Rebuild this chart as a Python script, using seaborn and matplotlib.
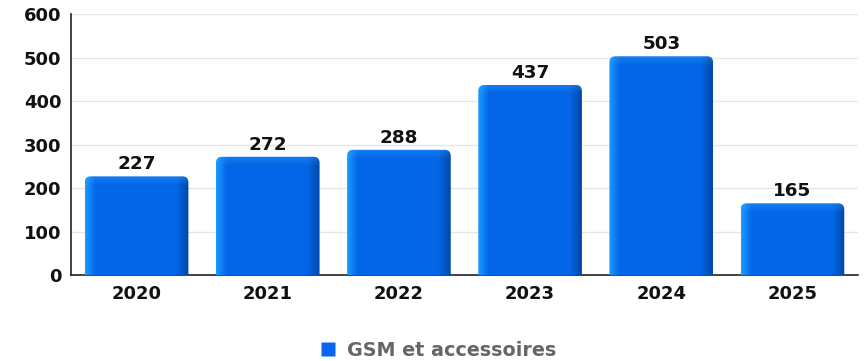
import numpy as np
import pandas as pd
import matplotlib
matplotlib.use("Agg")
import matplotlib.pyplot as plt
import seaborn as sns
from matplotlib.patches import FancyBboxPatch
from matplotlib.lines import Line2D
from matplotlib.colors import to_rgb

# data
years = ["2020", "2021", "2022", "2023", "2024", "2025"]
values = [227, 272, 288, 437, 503, 165]
series_name = "GSM et accessoires"

df = pd.DataFrame({"year": years, "value": values})

sns.set_style("white")
plt.rcParams["font.family"] = ["DejaVu Sans"]

fig = plt.figure(figsize=(8.68, 3.61), dpi=100)
ax = fig.add_axes([0.0818, 0.238, 0.9067, 0.723])

main = "#0366e8"
sns.barplot(data=df, x="year", y="value", color=main, width=0.79,
            saturation=1, ax=ax)

ax.set_xlim(-0.5, 5.5)
ax.set_ylim(0, 600)
ax.set_yticks(range(0, 601, 100))
ax.grid(axis="y", color="#e6e6e6", linewidth=1)
ax.set_axisbelow(True)

# gradient bars with rounded top corners
light = np.array(to_rgb("#1a9bff"))
mid = np.array(to_rgb(main))
dark = np.array(to_rgb("#0048a8"))
xs = np.linspace(0, 1, 120)
row = np.empty((120, 3))
for i, t in enumerate(xs):
    if t < 0.1:
        row[i] = light + (mid - light) * (t / 0.1)
    elif t > 0.88:
        row[i] = mid + (dark - mid) * ((t - 0.88) / 0.12)
    else:
        row[i] = mid

px_per_x = 0.9067 * 868 / 6
px_per_y = 0.723 * 361 / 600
aspect = px_per_x / px_per_y

for p in ax.patches:
    x0, w, h = p.get_x(), p.get_width(), p.get_height()
    p.set_visible(False)
    rows = int(h)
    img = np.tile(row, (rows, 1, 1))
    top = int(10 / px_per_y)
    for r in range(top):
        k = 0.35 * (1 - r / top)
        img[r] = np.clip(img[r] * (1 - k) + np.array(to_rgb("#3aa8ff")) * k, 0, 1)
    clip = FancyBboxPatch((x0, -20), w, h + 20,
                          boxstyle="round,pad=0,rounding_size=%f" % (6 / px_per_x),
                          mutation_aspect=aspect, transform=ax.transData,
                          facecolor="none", edgecolor="none")
    im = ax.imshow(img, extent=(x0, x0 + w, 0, h), aspect="auto",
                   origin="upper", zorder=3, interpolation="bilinear")
    im.set_clip_path(clip)
    ax.annotate(str(int(h)), (x0 + w / 2, h), xytext=(0, 5), textcoords="offset points",
                ha="center", va="baseline", fontsize=13.2, fontweight="bold",
                color="#111111", zorder=4)

ax.set_xlim(-0.5, 5.5)
ax.set_ylim(0, 600)

for s in ["top", "right"]:
    ax.spines[s].set_visible(False)
for s in ["left", "bottom"]:
    ax.spines[s].set_color("#222222")
    ax.spines[s].set_linewidth(1.2)

ax.set_xticks(range(len(years)))
ax.set_xticklabels(years)
ax.set_xticks(np.arange(0.5, 5.5, 1), minor=True)
ax.tick_params(axis="x", which="major", length=0, pad=7.5)
ax.tick_params(axis="x", which="minor", length=4, width=1, color="#222222", direction="out")
ax.tick_params(axis="y", length=4, width=1, color="#222222", direction="out", pad=3)
for lab in ax.get_xticklabels() + ax.get_yticklabels():
    lab.set_fontweight("bold")
    lab.set_fontsize(13)
    lab.set_color("#111111")
ax.set_xlabel("")
ax.set_ylabel("")

handle = Line2D([], [], marker="s", linestyle="none", markersize=10,
                markerfacecolor="#0a66f0", markeredgecolor="none")
leg = fig.legend([handle], [series_name], loc="center", bbox_to_anchor=(0.504, 0.03),
                 frameon=False, handletextpad=0.5, handlelength=1.0, fontsize=13.8)
for t in leg.get_texts():
    t.set_color("#666666")
    t.set_fontweight("bold")

fig.savefig("out.png", dpi=100)
